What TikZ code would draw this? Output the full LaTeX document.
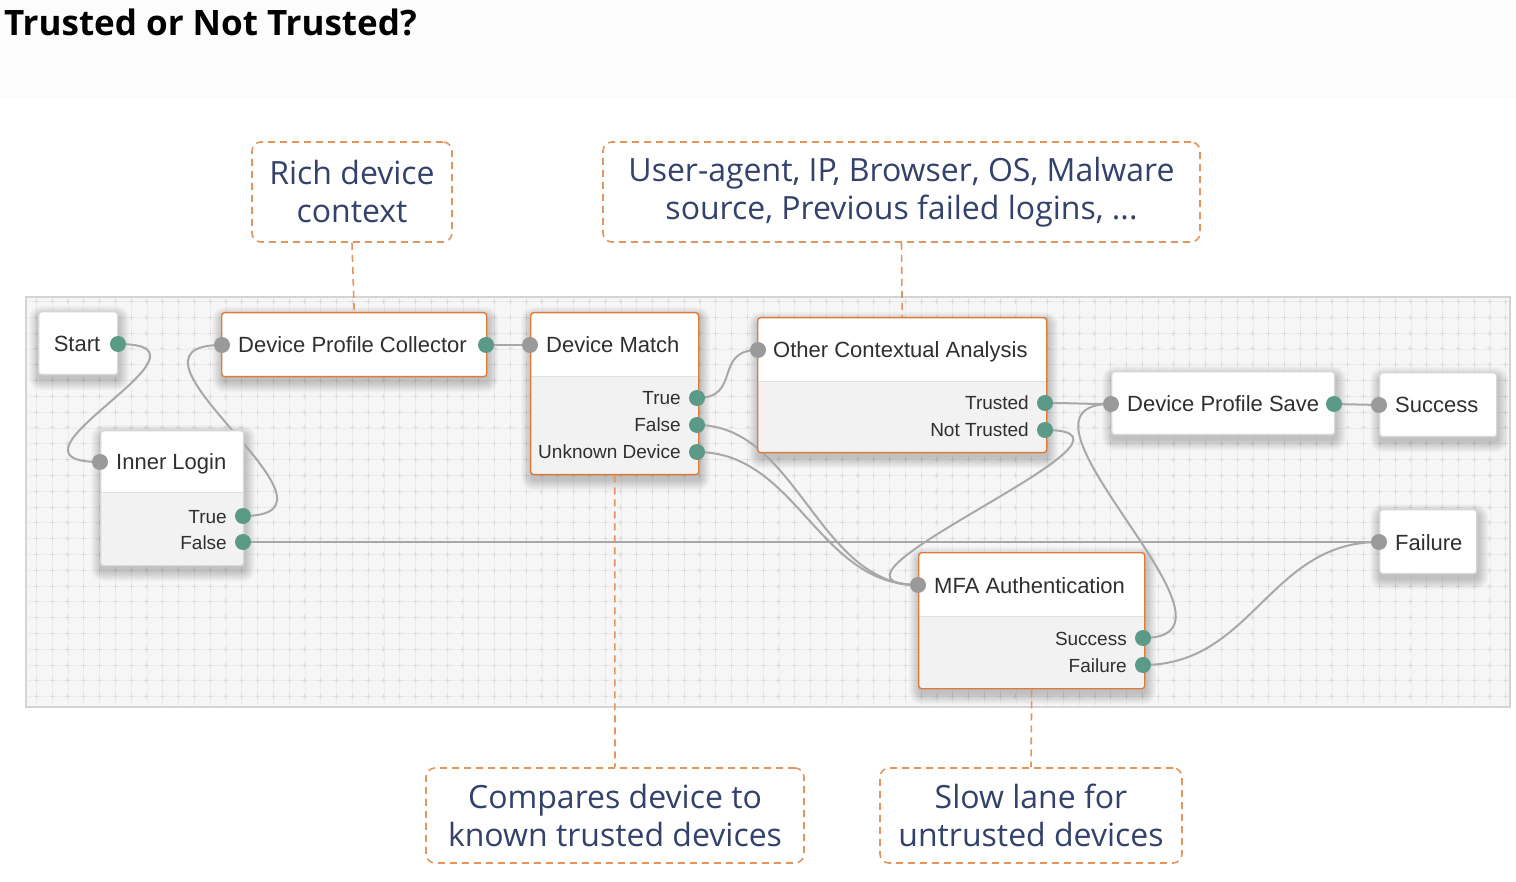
\documentclass[tikz,border=0pt]{standalone}
\usepackage{fontspec}
\setmainfont{Liberation Sans}
\newfontfamily\osans{Open Sans}
\definecolor{orng}{HTML}{E07A3A}
\definecolor{dashc}{HTML}{E2955F}
\definecolor{navy}{HTML}{34416B}
\definecolor{txt}{HTML}{2F2F2F}
\definecolor{wirec}{HTML}{A8A8A8}
\definecolor{outp}{HTML}{5A9A87}
\definecolor{inp}{HTML}{9A9A9A}
\definecolor{canvasc}{HTML}{F6F6F6}
\definecolor{gridc}{HTML}{ECECEC}
\definecolor{crossc}{HTML}{DCDCDC}
\definecolor{lowerc}{HTML}{F2F2F2}
\definecolor{sepc}{HTML}{E0E0E0}
\definecolor{greyb}{HTML}{D6D6D6}
\definecolor{topband}{HTML}{FCFCFC}
\definecolor{canvasb}{HTML}{D4D4D4}
\pgfdeclarelayer{bg}
\pgfdeclarelayer{shadowl}
\pgfdeclarelayer{wires}
\pgfsetlayers{bg,shadowl,wires,main}
\newcommand\mkshadow[1]{%
  \begin{pgfonlayer}{shadowl}
  \foreach \k [evaluate=\k as \r using 3+\k] in {0,...,10} {
    \fill[black, fill opacity=0.02, rounded corners=\r pt]
      ([xshift=-\k pt+1pt, yshift=\k pt-5pt]#1.north west) rectangle
      ([xshift=\k pt+1pt, yshift=-\k pt-5pt]#1.south east);
  }
  \end{pgfonlayer}}
\begin{document}
\begin{tikzpicture}[x=1pt,y=-1pt,
  box/.style={draw=#1, line width=1.4pt, rounded corners=3pt, fill=white, inner sep=0pt,
    anchor=north west},
  split/.style={path picture={
    \fill[lowerc] ([yshift=-#1]path picture bounding box.north west) rectangle (path picture bounding box.south east);
    \draw[sepc, line width=1pt] ([yshift=-#1]path picture bounding box.north west) -- ([yshift=-#1]path picture bounding box.north east);}},
  outport/.style={circle, fill=outp, minimum size=16pt, inner sep=0pt},
  inport/.style={circle, fill=inp, minimum size=16pt, inner sep=0pt},
  head/.style={anchor=base west, text=txt, inner sep=0pt, font=\fontsize{22}{26}\selectfont},
  headc/.style={anchor=base, text=txt, inner sep=0pt, font=\fontsize{22}{26}\selectfont},
  plbl/.style={anchor=base east, text=txt, inner sep=0pt, font=\fontsize{19}{22}\selectfont},
  wire/.style={draw=wirec, line width=2pt},
  ann/.style={draw=dashc, dash pattern=on 7pt off 5pt, line width=1.6pt, rounded corners=9pt,
    align=center, text=navy, inner sep=0pt, font=\osans\fontsize{32}{38}\selectfont},
  annline/.style={draw=dashc, dash pattern=on 7pt off 5pt, line width=1.6pt},
  gridl/.style={draw=gridc, line width=0.8pt},
  crossl/.style={draw=crossc, line width=1pt, dash pattern=on 5pt off 10.8pt}
]
\useasboundingbox (0,0) rectangle (1516,882);
\begin{pgfonlayer}{bg}
  \fill[white] (0,0) rectangle (1516,882);
  \fill[topband] (0,0) rectangle (1516,98);
  \fill[canvasc] (26,297) rectangle (1510,707);
  \foreach \i in {0,...,93} {
    \draw[gridl] ({36.3+\i*15.8},297) -- ++(0,410);
    \draw[crossl] ({36.3+\i*15.8},299.1) -- ({36.3+\i*15.8},707);
  }
  \foreach \j in {0,...,25} {
    \draw[gridl] (26,{301.6+\j*15.8}) -- ++(1484,0);
    \draw[crossl] (33.8,{301.6+\j*15.8}) -- (1510,{301.6+\j*15.8});
  }
  \draw[canvasb, line width=1.2pt] (26,297) rectangle (1510,707);
\end{pgfonlayer}

% title
\node[anchor=base west, inner sep=0pt, font=\osans\bfseries\fontsize{35}{40}\selectfont, text=black] (title) at (4,36) {Trusted or Not Trusted?};

% boxes
\node[box=greyb, minimum width=79pt, minimum height=63pt] (start) at (38,311) {};
\node[box=greyb, minimum width=143pt, minimum height=135pt, split=62pt] (il) at (100,430) {};
\node[box=orng, minimum width=265pt, minimum height=64pt] (dpc) at (221,312) {};
\node[box=orng, minimum width=168pt, minimum height=162pt, split=64pt] (dm) at (530,312) {};
\node[box=orng, minimum width=289pt, minimum height=135pt, split=64pt] (oca) at (757,317) {};
\node[box=greyb, minimum width=223pt, minimum height=63pt] (dps) at (1111,371) {};
\node[box=greyb, minimum width=117pt, minimum height=64pt] (succ) at (1379,372) {};
\node[box=greyb, minimum width=97pt, minimum height=64pt] (fail) at (1379,509) {};
\node[box=orng, minimum width=226pt, minimum height=136pt, split=64pt] (mfa) at (918,552) {};
\mkshadow{start}\mkshadow{il}\mkshadow{dpc}\mkshadow{dm}\mkshadow{oca}
\mkshadow{dps}\mkshadow{succ}\mkshadow{fail}\mkshadow{mfa}

% ports
\node[outport] (startO) at (118,344) {};
\node[inport] (ilI) at (100,462) {};
\node[outport] (ilT) at (243,516) {};
\node[outport] (ilF) at (243,542) {};
\node[inport] (dpcI) at (222,345) {};
\node[outport] (dpcO) at (486,345) {};
\node[inport] (dmI) at (530,345) {};
\node[outport] (dmT) at (697,398) {};
\node[outport] (dmF) at (697,425) {};
\node[outport] (dmU) at (697,452) {};
\node[inport] (ocaI) at (758,350) {};
\node[outport] (ocaT) at (1045,403) {};
\node[outport] (ocaN) at (1045,430) {};
\node[inport] (dpsI) at (1111,404) {};
\node[outport] (dpsO) at (1334,404) {};
\node[inport] (succI) at (1379,405) {};
\node[inport] (failI) at (1379,542) {};
\node[inport] (mfaI) at (918,585) {};
\node[outport] (mfaS) at (1143,638) {};
\node[outport] (mfaF) at (1143,665) {};

% labels (baselines = centre + half cap height)
\node[headc] (startL) at (77,352) {Start};
\node[head] (ilL) at (116,470) {Inner Login};
\node[plbl] (ilTL) at (227,523) {True};
\node[plbl] (ilFL) at (227,549) {False};
\node[head] (dpcL) at (238,353) {Device Profile Collector};
\node[head] (dmL) at (546,353) {Device Match};
\node[plbl] (dmTL) at (681,405) {True};
\node[plbl] (dmFL) at (681,432) {False};
\node[plbl] (dmUL) at (681,459) {Unknown Device};
\node[head] (ocaL) at (773,358) {Other Contextual Analysis};
\node[plbl] (ocaTL) at (1029,410) {Trusted};
\node[plbl] (ocaNL) at (1029,437) {Not Trusted};
\node[head] (dpsL) at (1127,412) {Device Profile Save};
\node[head] (succL) at (1395,413) {Success};
\node[head] (failL) at (1395,550) {Failure};
\node[head] (mfaL) at (934,593) {MFA Authentication};
\node[plbl] (mfaSL) at (1127,645) {Success};
\node[plbl] (mfaFL) at (1127,672) {Failure};

% wires
\begin{pgfonlayer}{wires}
  \draw[wire] (startO.center) .. controls +(118,0) and +(-118,0) .. (ilI.center);
  \draw[wire] (ilT.center) .. controls +(126,0) and +(-126,0) .. (dpcI.center);
  \draw[wire] (ilF.center) -- (failI.center);
  \draw[wire] (dpcO.center) -- (dmI.center);
  \draw[wire] (dmT.center) .. controls +(45,0) and +(-45,0) .. (ocaI.center);
  \draw[wire] (dmF.center) .. controls +(100,0) and +(-100,0) .. (mfaI.center);
  \draw[wire] (dmU.center) .. controls +(100,0) and +(-100,0) .. (mfaI.center);
  \draw[wire] (ocaT.center) .. controls +(30,0) and +(-30,0) .. (dpsI.center);
  \draw[wire] (ocaN.center) .. controls +(135,0) and +(-135,0) .. (mfaI.center);
  \draw[wire] (mfaS.center) .. controls +(125,0) and +(-125,0) .. (dpsI.center);
  \draw[wire] (mfaF.center) .. controls +(110,0) and +(-110,0) .. (failI.center);
  \draw[wire] (dpsO.center) -- (succI.center);
\end{pgfonlayer}

% annotations
\node[ann, minimum width=200pt, minimum height=100pt] (annA) at (352,192) {Rich device\\context};
\node[ann, minimum width=597pt, minimum height=100pt] (annB) at (901.5,192) {User-agent, IP, Browser, OS, Malware\\source, Previous failed logins, ...};
\node[ann, minimum width=378pt, minimum height=95pt] (annC) at (615,815.5) {Compares device to\\known trusted devices};
\node[ann, minimum width=302pt, minimum height=95pt] (annD) at (1031,815.5) {Slow lane for\\untrusted devices};
\draw[annline] (annA.south) -- (dpc.north);
\draw[annline] (annB.south) -- (oca.north);
\draw[annline] (dm.south) -- (annC.north);
\draw[annline] (mfa.south) -- (annD.north);
\end{tikzpicture}
\end{document}
